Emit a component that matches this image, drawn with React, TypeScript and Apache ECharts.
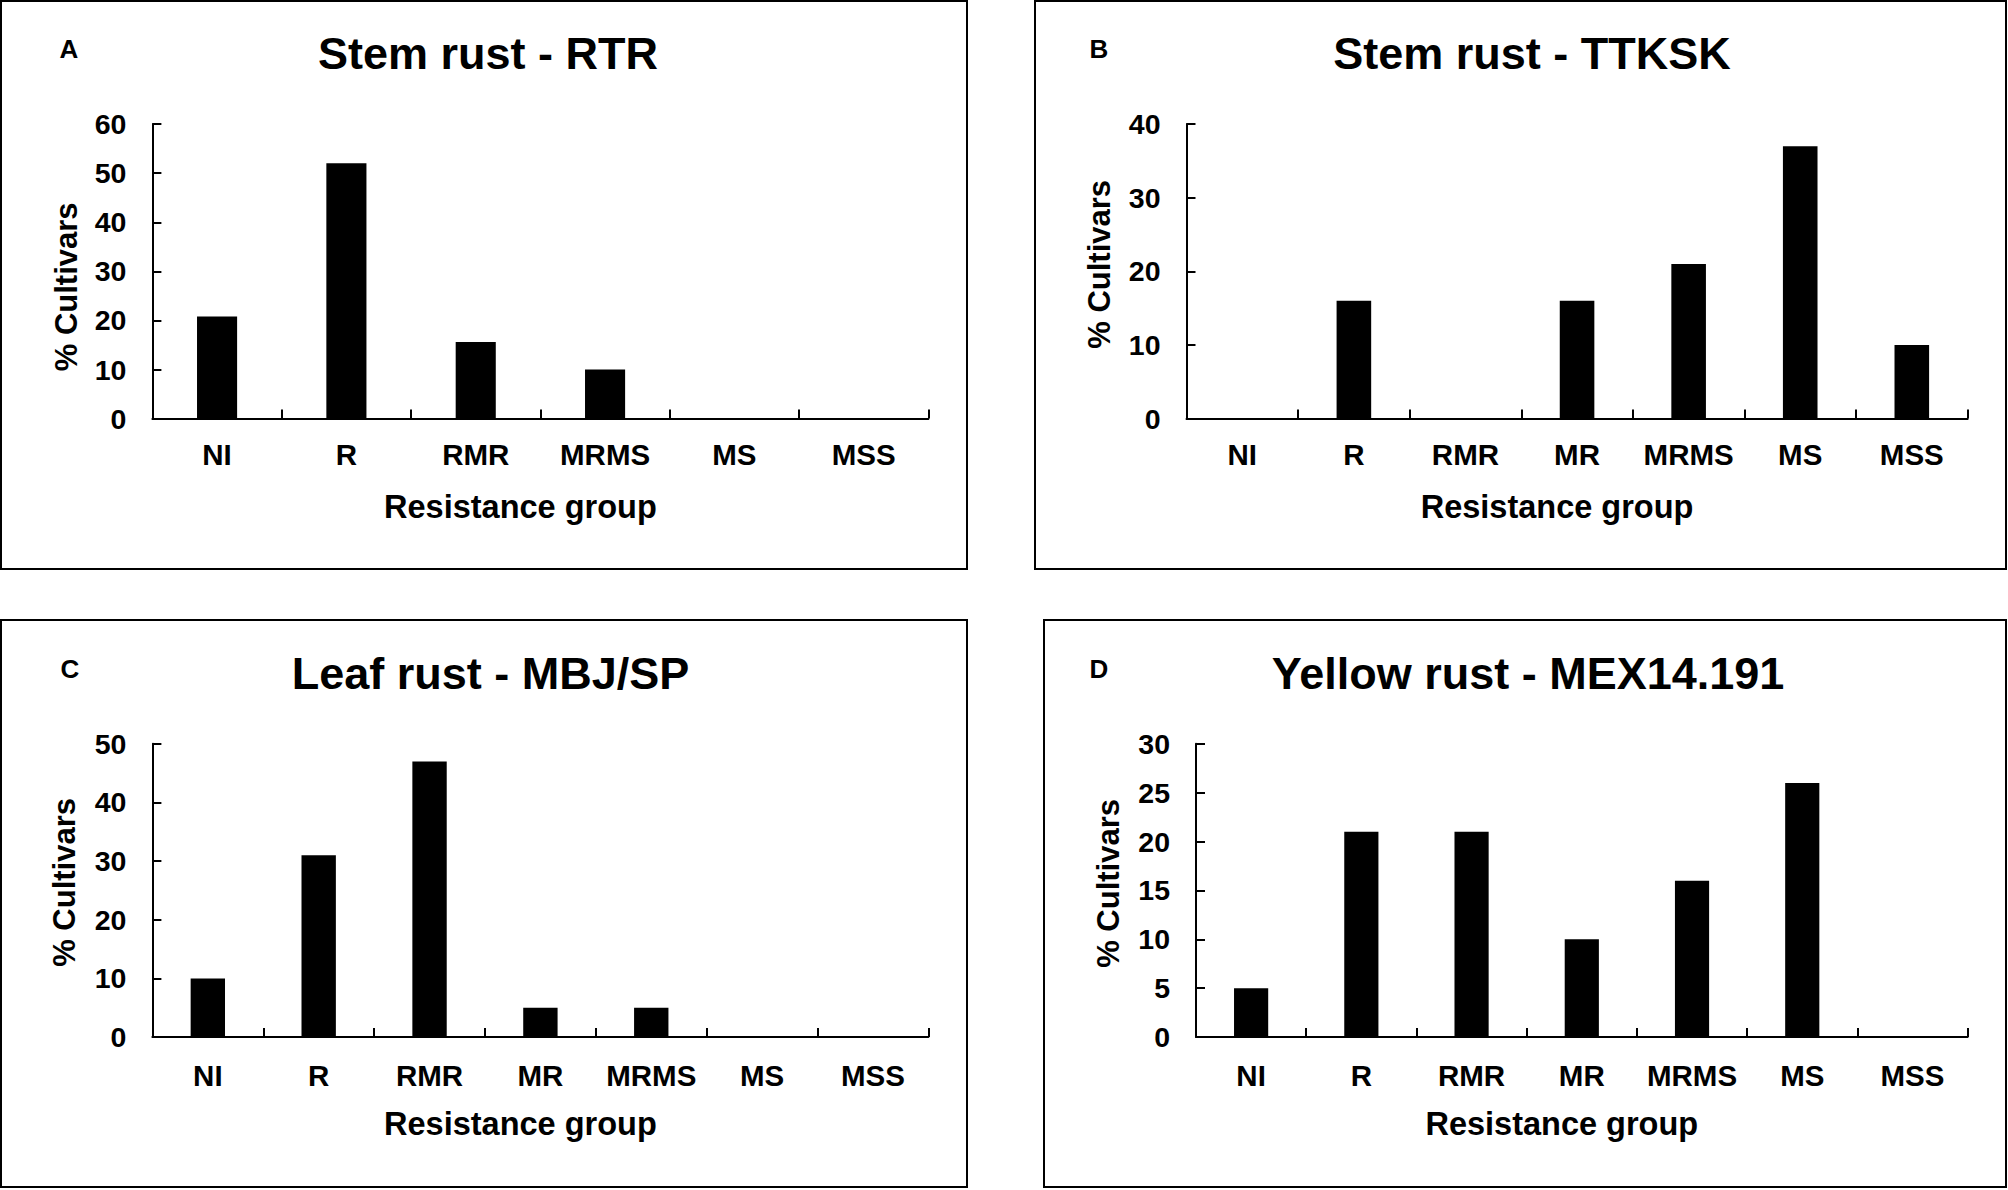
import React, { useEffect, useRef } from "react";
import * as echarts from "echarts";

// ---------- data ----------
const categoriesA = ["NI", "R", "RMR", "MRMS", "MS", "MSS"];
const categoriesBCD = ["NI", "R", "RMR", "MR", "MRMS", "MS", "MSS"];
const valuesA = [20.8, 52, 15.6, 10, 0, 0];
const valuesB = [0, 16, 0, 16, 21, 37, 10];
const valuesC = [10, 31, 47, 5, 5, 0, 0];
const valuesD = [5, 21, 21, 10, 16, 26, 0];
const panelTitles = ["Stem rust - RTR", "Stem rust - TTKSK", "Leaf rust - MBJ/SP", "Yellow rust - MEX14.191"];
const panelLetters = ["A", "B", "C", "D"];
const yMaxima = [60, 40, 50, 30];
const yIntervals = [10, 10, 10, 5];
const xAxisTitle = "Resistance group";
const yAxisTitle = "% Cultivars";

const panelCategories = [categoriesA, categoriesBCD, categoriesBCD, categoriesBCD];
const panelValues = [valuesA, valuesB, valuesC, valuesD];

// ---------- layout ----------
const FONT = "'Liberation Sans', Arial, Helvetica, sans-serif";
const layout = [
  { box: [1, 1, 966, 568], grid: { left: 152.4, top: 124.1, width: 776, height: 294.5 }, title: [488, 53], letter: [69, 48.7], yPad: [0, 31, 0, 0], xMargin: 20.5, xGap: 72, yGap: 70 },
  { box: [1035, 1, 971, 568], grid: { left: 1186.5, top: 124.1, width: 781.1, height: 294.5 }, title: [1532, 53], letter: [1099, 48.7], yPad: [0, 0, 0, 14], xMargin: 20.5, xGap: 72, yGap: 72 },
  { box: [1, 620, 966, 567], grid: { left: 152.4, top: 743.8, width: 776, height: 293.3 }, title: [490.5, 673.5], letter: [70, 668.5], yPad: [0, 0, 0, 16], xMargin: 23.5, xGap: 71, yGap: 72 },
  { box: [1044, 620, 962, 567], grid: { left: 1196, top: 743.8, width: 771.6, height: 293.3 }, title: [1528, 673], letter: [1099, 668.5], yPad: [0, 0, 0, 14], xMargin: 23.5, xGap: 71, yGap: 72 },
];

function buildOption() {
  const black = "#000";
  const grid = layout.map((l) => ({ ...l.grid, containLabel: false }));
  const xAxis = layout.map((l, i) => ({
    type: "category",
    gridIndex: i,
    data: panelCategories[i],
    axisLine: { show: true, lineStyle: { color: black, width: 2 } },
    axisTick: { show: true, inside: true, length: 9, lineStyle: { color: black, width: 2 } },
    axisLabel: { color: black, fontSize: 29.5, fontWeight: "bold", fontFamily: FONT, margin: l.xMargin, interval: 0 },
    splitLine: { show: false },
    name: xAxisTitle,
    nameLocation: "middle",
    nameGap: l.xGap,
    nameTextStyle: { color: black, fontSize: 32.5, fontWeight: "bold", fontFamily: FONT, padding: [0, 40, 0, 0], lineHeight: 32.5 },
  }));
  const yAxis = layout.map((l, i) => ({
    type: "value",
    gridIndex: i,
    min: 0,
    max: yMaxima[i],
    interval: yIntervals[i],
    axisLine: { show: true, lineStyle: { color: black, width: 2 } },
    axisTick: { show: true, inside: true, length: 9, lineStyle: { color: black, width: 2 } },
    axisLabel: { color: black, fontSize: 28.5, fontWeight: "bold", fontFamily: FONT, margin: 26 },
    splitLine: { show: false },
    name: yAxisTitle,
    nameLocation: "middle",
    nameGap: l.yGap,
    nameTextStyle: { color: black, fontSize: 31, fontWeight: "bold", fontFamily: FONT, padding: l.yPad, lineHeight: 31 },
  }));
  const series = layout.map((l, i) => ({
    type: "bar",
    xAxisIndex: i,
    yAxisIndex: i,
    data: panelValues[i],
    barWidth: "31%",
    itemStyle: { color: black },
    silent: true,
  }));
  const title = layout.map((l, i) => ({
    text: panelTitles[i],
    left: l.title[0],
    top: l.title[1] - 22.5,
    textAlign: "center",
    padding: 0,
    textStyle: { color: black, fontSize: 45, fontWeight: "bold", fontFamily: FONT, lineHeight: 45 },
  }));
  const graphic: any[] = [];
  layout.forEach((l, i) => {
    graphic.push({
      type: "rect",
      shape: { x: l.box[0], y: l.box[1], width: l.box[2], height: l.box[3] },
      style: { fill: "none", stroke: black, lineWidth: 2 },
      silent: true,
    });
    graphic.push({
      type: "text",
      x: l.letter[0],
      y: l.letter[1],
      style: {
        text: panelLetters[i],
        fill: black,
        fontSize: 26,
        fontWeight: "bold",
        fontFamily: FONT,
        textAlign: "center",
        textVerticalAlign: "middle",
      },
      silent: true,
    });
  });
  return { animation: false, backgroundColor: "#fff", title, grid, xAxis, yAxis, series, graphic };
}

export default function App() {
  const ref = useRef<HTMLDivElement>(null);
  useEffect(() => {
    if (!ref.current) return;
    const chart = echarts.init(ref.current, undefined, { renderer: "svg" });
    chart.setOption(buildOption() as any);
    return () => chart.dispose();
  }, []);
  return <div ref={ref} style={{ position: "absolute", left: 0, top: 0, width: 2008, height: 1190, background: "#fff" }} />;
}
